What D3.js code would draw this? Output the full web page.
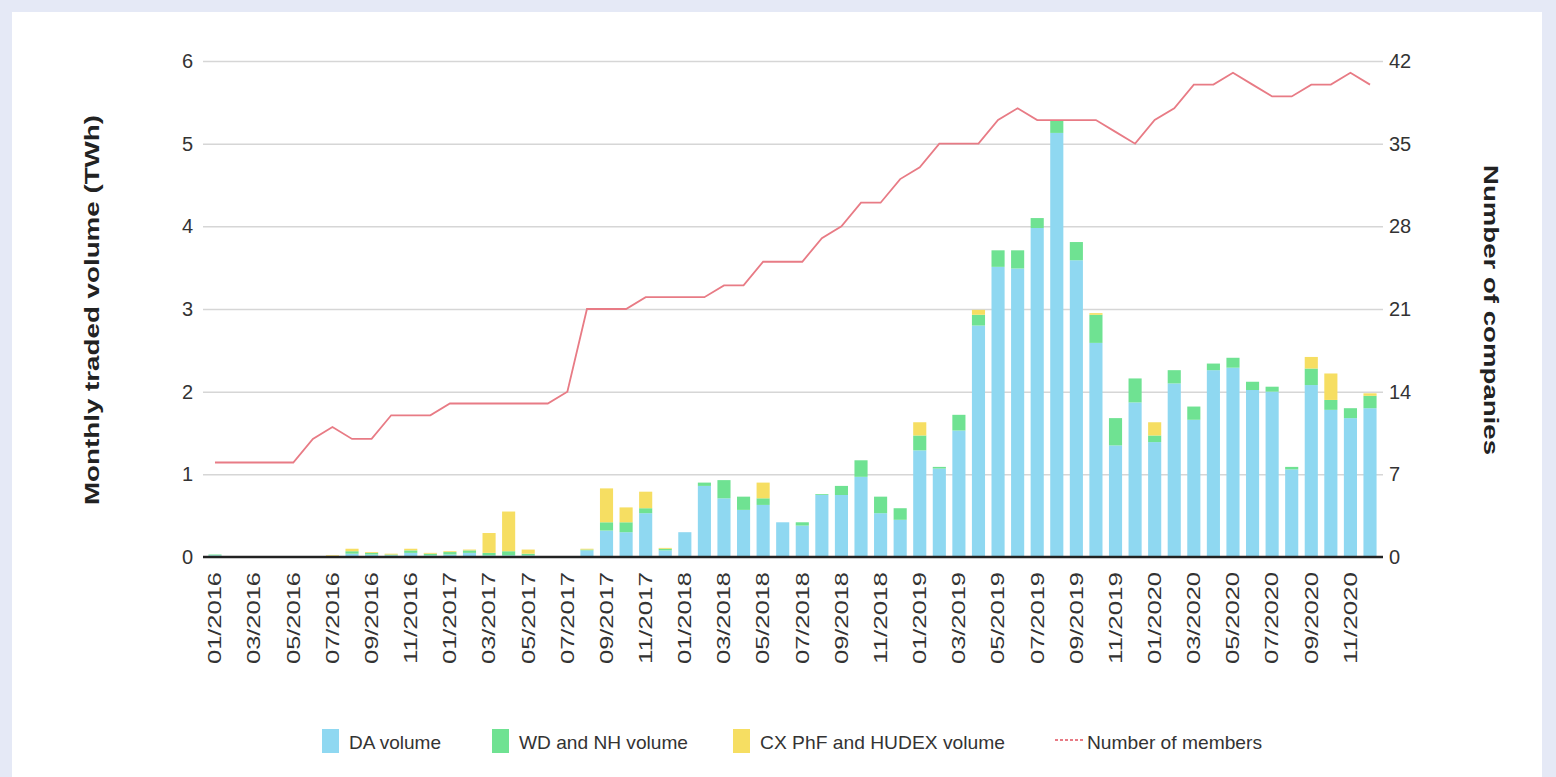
<!DOCTYPE html>
<html>
<head>
<meta charset="utf-8">
<script src="https://cdn.jsdelivr.net/npm/d3@7"></script>
<style>
  body { margin: 0; background: #e5e9f6; }
  svg { display: block; font-family: "Liberation Sans", Arial, sans-serif; }
</style>
</head>
<body>
<svg id="chart" width="1556" height="777"></svg>
<script>
// months 01/2016 .. 12/2020
const months = [
  "01/2016","02/2016","03/2016","04/2016","05/2016","06/2016","07/2016","08/2016","09/2016","10/2016","11/2016","12/2016",
  "01/2017","02/2017","03/2017","04/2017","05/2017","06/2017","07/2017","08/2017","09/2017","10/2017","11/2017","12/2017",
  "01/2018","02/2018","03/2018","04/2018","05/2018","06/2018","07/2018","08/2018","09/2018","10/2018","11/2018","12/2018",
  "01/2019","02/2019","03/2019","04/2019","05/2019","06/2019","07/2019","08/2019","09/2019","10/2019","11/2019","12/2019",
  "01/2020","02/2020","03/2020","04/2020","05/2020","06/2020","07/2020","08/2020","09/2020","10/2020","11/2020","12/2020"
];

// TWh
const daVolume = [
  0.02, 0, 0, 0, 0, 0, 0, 0.04, 0.03, 0.02, 0.05, 0.02,
  0.03, 0.05, 0.02, 0.02, 0.02, 0, 0, 0.08, 0.32, 0.30, 0.53, 0.08,
  0.30, 0.86, 0.71, 0.57, 0.63, 0.42, 0.38, 0.75, 0.75, 0.97, 0.53, 0.45,
  1.29, 1.07, 1.53, 2.80, 3.51, 3.49, 3.98, 5.13, 3.59, 2.59, 1.35, 1.87,
  1.39, 2.10, 1.66, 2.26, 2.29, 2.02, 2.00, 1.06, 2.08, 1.78, 1.68, 1.80
];
const wdVolume = [
  0.01, 0, 0, 0, 0, 0, 0, 0.03, 0.02, 0.01, 0.03, 0.02,
  0.03, 0.03, 0.03, 0.05, 0.02, 0, 0, 0.01, 0.10, 0.12, 0.06, 0.02,
  0, 0.04, 0.22, 0.16, 0.08, 0, 0.04, 0.01, 0.11, 0.20, 0.20, 0.14,
  0.18, 0.02, 0.19, 0.13, 0.20, 0.22, 0.12, 0.15, 0.22, 0.34, 0.33, 0.29,
  0.08, 0.16, 0.16, 0.08, 0.12, 0.10, 0.06, 0.03, 0.20, 0.12, 0.12, 0.15
];
const cxVolume = [
  0, 0, 0, 0, 0, 0, 0.02, 0.03, 0.01, 0.01, 0.02, 0.01,
  0.01, 0.01, 0.24, 0.48, 0.05, 0, 0, 0.01, 0.41, 0.18, 0.20, 0.01,
  0, 0, 0, 0, 0.19, 0, 0, 0, 0, 0, 0, 0,
  0.16, 0, 0, 0.06, 0, 0, 0, 0, 0, 0.02, 0, 0,
  0.16, 0, 0, 0, 0, 0, 0, 0, 0.14, 0.32, 0, 0.03
];
// number of member companies
const members = [
  8, 8, 8, 8, 8, 10, 11, 10, 10, 12, 12, 12,
  13, 13, 13, 13, 13, 13, 14, 21, 21, 21, 22, 22,
  22, 22, 23, 23, 25, 25, 25, 27, 28, 30, 30, 32,
  33, 35, 35, 35, 37, 38, 37, 37, 37, 37, 36, 35,
  37, 38, 40, 40, 41, 40, 39, 39, 40, 40, 41, 40
];

const leftTicks = [0, 1, 2, 3, 4, 5, 6];
const rightTicks = [0, 7, 14, 21, 28, 35, 42];

const seriesNames = ["DA volume", "WD and NH volume", "CX PhF and HUDEX volume"];
const colors = ["#8fd8f1", "#6fe292", "#f6de62"];
const lineColor = "#e87b85";

const svg = d3.select("#chart");

// white panel
svg.append("rect").attr("x", 12).attr("y", 12).attr("width", 1530).attr("height", 770).attr("fill", "#fff");

const x = d3.scaleBand().domain(months).range([205.2, 1379.8]).paddingInner(0.33).paddingOuter(0.165);
const y = d3.scaleLinear().domain([0, 6]).range([557, 61]);
const y2 = d3.scaleLinear().domain([0, 42]).range([557, 61]);

// gridlines
svg.append("g")
  .attr("transform", "translate(203,0)")
  .call(d3.axisRight(y).tickValues(leftTicks.slice(1)).tickSize(1180).tickFormat(""))
  .call(g => g.select(".domain").remove())
  .call(g => g.selectAll("line").attr("stroke", "#d6d6d6").attr("stroke-width", 1.5));

// stacked bars
const table = months.map((m, i) => ({ month: m, da: daVolume[i], wd: wdVolume[i], cx: cxVolume[i] }));
const stacked = d3.stack().keys(["da", "wd", "cx"])(table);

svg.append("g")
  .selectAll("g")
  .data(stacked)
  .join("g")
  .attr("fill", (d, i) => colors[i])
  .selectAll("rect")
  .data(d => d)
  .join("rect")
  .attr("x", d => x(d.data.month))
  .attr("y", d => y(d[1]))
  .attr("height", d => y(d[0]) - y(d[1]))
  .attr("width", x.bandwidth());

// baseline
svg.append("line")
  .attr("x1", 203).attr("x2", 1383)
  .attr("y1", y(0)).attr("y2", y(0))
  .attr("stroke", "#222").attr("stroke-width", 2.5);

// members line
const line = d3.line()
  .x((d, i) => x(months[i]) + x.bandwidth() / 2)
  .y(d => y2(d));

svg.append("path")
  .datum(members)
  .attr("fill", "none")
  .attr("stroke", lineColor)
  .attr("stroke-width", 1.8)
  .attr("d", line);

// left axis labels
svg.append("g")
  .attr("transform", "translate(203,0)")
  .call(d3.axisLeft(y).tickValues(leftTicks).tickFormat(d3.format("d")).tickSize(0).tickPadding(10))
  .call(g => g.select(".domain").remove())
  .call(g => g.selectAll("text").attr("font-size", 20).attr("fill", "#333").attr("font-family", null));

// right axis labels
svg.append("g")
  .attr("transform", "translate(1383,0)")
  .call(d3.axisRight(y2).tickValues(rightTicks).tickFormat(d3.format("d")).tickSize(0).tickPadding(6))
  .call(g => g.select(".domain").remove())
  .call(g => g.selectAll("text").attr("font-size", 20).attr("fill", "#333").attr("font-family", null));

// x axis labels
svg.append("g")
  .attr("transform", `translate(0,${y(0)})`)
  .call(d3.axisBottom(x).tickValues(months.filter((m, i) => i % 2 === 0)).tickSize(0))
  .call(g => g.select(".domain").remove())
  .call(g => g.selectAll("text")
    .attr("font-size", 18)
    .attr("fill", "#333")
    .attr("font-family", null)
    .attr("transform", "rotate(-90)")
    .attr("x", -15)
    .attr("y", 0)
    .attr("dy", "0.35em")
    .attr("text-anchor", "end")
    .attr("textLength", 92)
    .attr("lengthAdjust", "spacingAndGlyphs"));

// axis titles
svg.append("text")
  .attr("transform", "translate(99,310) rotate(-90)")
  .attr("text-anchor", "middle")
  .attr("font-size", 20)
  .attr("font-weight", "bold")
  .attr("fill", "#222")
  .attr("textLength", 390)
  .attr("lengthAdjust", "spacingAndGlyphs")
  .text("Monthly traded volume (TWh)");

svg.append("text")
  .attr("transform", "translate(1484,310) rotate(90)")
  .attr("text-anchor", "middle")
  .attr("font-size", 20)
  .attr("font-weight", "bold")
  .attr("fill", "#222")
  .attr("textLength", 290)
  .attr("lengthAdjust", "spacingAndGlyphs")
  .text("Number of companies");

// legend
const legendX = [322, 492, 733];
const legendW = [92, 169, 245];
seriesNames.forEach((name, i) => {
  svg.append("rect")
    .attr("x", legendX[i]).attr("y", 729)
    .attr("width", 17).attr("height", 24)
    .attr("fill", colors[i]);
  svg.append("text")
    .attr("x", legendX[i] + 27).attr("y", 749)
    .attr("font-size", 19).attr("fill", "#333")
    .attr("textLength", legendW[i])
    .attr("lengthAdjust", "spacingAndGlyphs")
    .text(name);
});
svg.append("line")
  .attr("x1", 1055).attr("x2", 1083).attr("y1", 740).attr("y2", 740)
  .attr("stroke", lineColor).attr("stroke-width", 2).attr("stroke-dasharray", "3,2");
svg.append("text")
  .attr("x", 1087).attr("y", 749)
  .attr("font-size", 19).attr("fill", "#333")
  .attr("textLength", 175)
  .attr("lengthAdjust", "spacingAndGlyphs")
  .text("Number of members");
</script>
</body>
</html>
